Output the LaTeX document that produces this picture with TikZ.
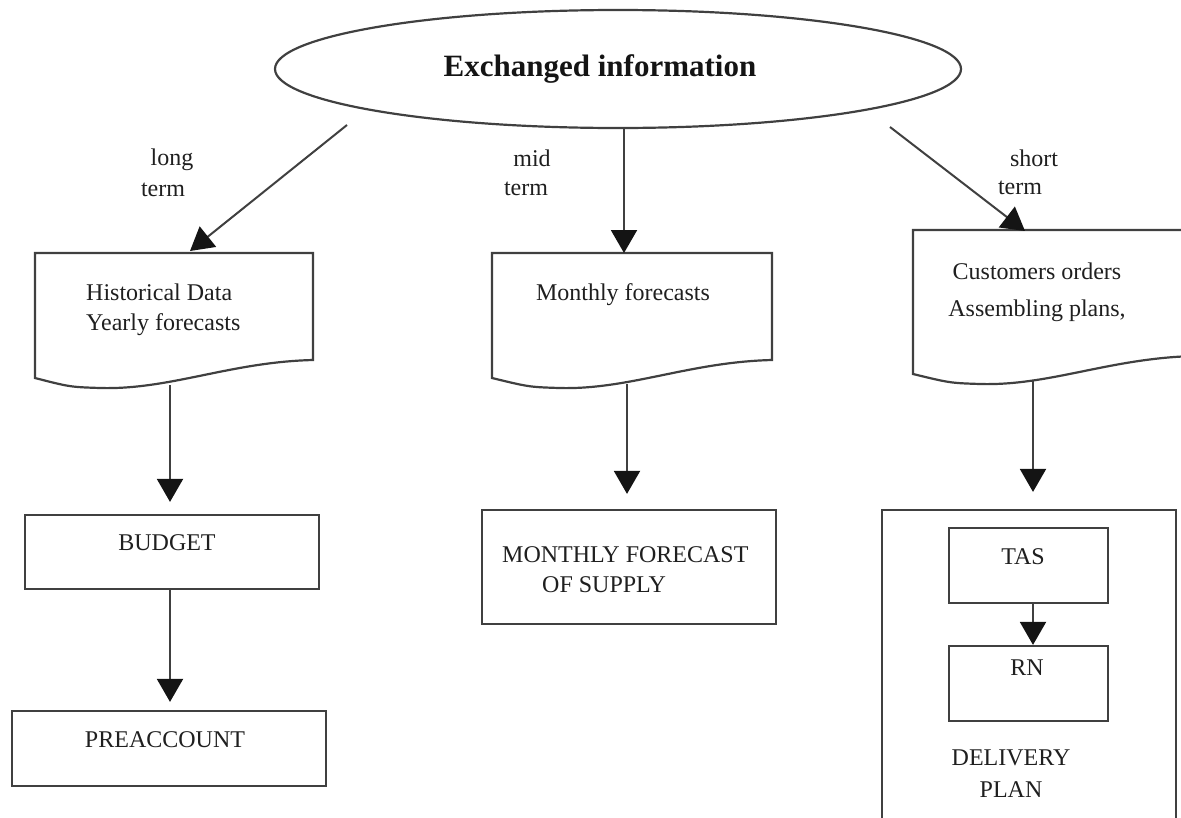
\documentclass[tikz,border=0pt]{standalone}
\usepackage{fontspec}
\setmainfont{Liberation Serif}
\usetikzlibrary{arrows.meta,shapes.geometric}
\begin{document}
\begin{tikzpicture}[x=1pt,y=-1pt,
  line/.style={draw=black!75,line width=2.2pt},
  flow/.style={draw=black!75,line width=2pt,-{Triangle[width=26pt,length=23pt,color=black!92]}},
  box/.style={line,rectangle,inner sep=0pt},
  txt/.style={font=\fontsize{24}{30}\selectfont,text=black!88,inner sep=0pt},
  title/.style={font=\fontsize{31}{36}\selectfont\bfseries,text=black!92}]
\useasboundingbox (0,0) rectangle (1181,817);
\clip (0,0) rectangle (1181,817);

% top ellipse
\node[line,ellipse,minimum width=686pt,minimum height=118pt,inner sep=0pt,title]
  (info) at (618,69) {\hspace*{-36pt}Exchanged information};

% document shapes
\draw[line] (35,253) -- (313,253) -- (313,360)
  .. controls (230,362) and (170,390) .. (100,388)
  .. controls (70,387) .. (35,378) -- cycle;
\draw[line] (492,253) -- (772,253) -- (772,360)
  .. controls (689,362) and (629,390) .. (559,388)
  .. controls (529,387) .. (492,378) -- cycle;
\draw[line] (913,230) -- (1195,230) -- (1195,356)
  .. controls (1110,358) and (1050,386) .. (980,384)
  .. controls (950,383) .. (913,374) -- cycle;

\node[txt,anchor=west,align=left] (hist) at (86,310) {Historical Data\\Yearly forecasts};
\node[txt] (monthly) at (623,295) {Monthly forecasts};
\node[txt,align=center,font=\fontsize{24}{37}\selectfont] (orders) at (1037,292) {Customers orders\\Assembling plans,};

% anchor points of the documents
\coordinate (d1top) at (190,251);
\coordinate (d2top) at (624,253);
\coordinate (d3top) at (1025,231);
\coordinate (d1bot) at (170,385);
\coordinate (d2bot) at (627,384);
\coordinate (d3bot) at (1033,381);
\coordinate (lt) at (347,125);
\coordinate (mt) at (624,128);
\coordinate (st) at (890,127);

% term labels
\node[txt] (long) at (172,160) {long};
\node[txt] (longt) at (163,190) {term};
\node[txt] (mid) at (532,158) {mid};
\node[txt] (midt) at (526,189) {term};
\node[txt] (short) at (1034,158) {short};
\node[txt] (shortt) at (1020,188) {term};

% boxes
\node[box,minimum width=294pt,minimum height=74pt] (budget) at (172,552) {};
\node[box,minimum width=314pt,minimum height=75pt] (prea) at (169,748.5) {};
\node[box,minimum width=294pt,minimum height=114pt] (mfs) at (629,567) {};
\node[box,minimum width=294pt,minimum height=320pt] (deliv) at (1029,670) {};
\node[box,minimum width=159pt,minimum height=75pt] (tas) at (1028.5,565.5) {};
\node[box,minimum width=159pt,minimum height=75pt] (rn) at (1028.5,683.5) {};

\node[txt] (budgett) at (167,543) {BUDGET};
\node[txt] (preat) at (165,740) {PREACCOUNT};
\node[txt,anchor=west,align=left] (mfst) at (502,570) {MONTHLY FORECAST\\\hspace*{40pt}OF SUPPLY};
\node[txt] (tast) at (1023,557) {TAS};
\node[txt] (rnt) at (1027,668) {RN};
\node[txt,align=center,font=\fontsize{24}{32}\selectfont] (delivt) at (1011,774) {DELIVERY\\PLAN};

% connectors
\draw[flow] (lt) -- (d1top);
\draw[flow] (mt) -- (d2top);
\draw[flow] (st) -- (d3top);
\draw[flow] (d1bot) -- ([yshift=12pt]d1bot |- budget.north);
\draw[flow] (d2bot) -- ([yshift=15pt]d2bot |- mfs.north);
\draw[flow] (d3bot) -- ([yshift=17pt]d3bot |- deliv.north);
\draw[flow] (budget.south -| d1bot) -- ([yshift=8pt]d1bot |- prea.north);
\draw[flow] (tas.south -| d3bot) -- (d3bot |- rn.north);
\end{tikzpicture}
\end{document}
